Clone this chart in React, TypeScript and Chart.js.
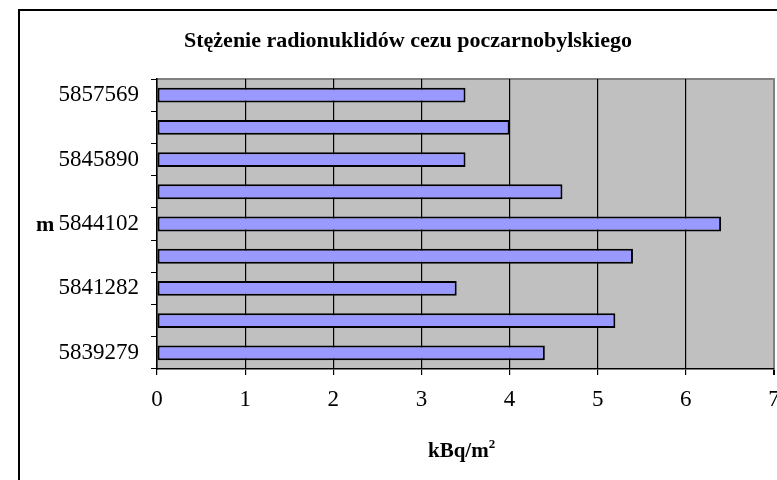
import React, { useEffect, useRef } from "react";
import { Chart, registerables } from "chart.js";

Chart.register(...registerables);

const categories = ["5857569", "", "5845890", "", "5844102", "", "5841282", "", "5839279"];
const values = [3.5, 4.0, 3.5, 4.6, 6.4, 5.4, 3.4, 5.2, 4.4];
const xTicks = [0, 1, 2, 3, 4, 5, 6, 7];
const titleText = "Stężenie radionuklidów cezu poczarnobylskiego";
const xTitle = "kBq/m";
const xTitleSup = "2";
const yTitle = "m";

const SERIF = "'Liberation Serif', 'Times New Roman', serif";

const decorPlugin = {
  id: "decor",
  beforeDraw(chart: any) {
    const { ctx, chartArea } = chart;
    ctx.save();
    ctx.fillStyle = "#000";
    ctx.fillRect(18, 9, 2, 480 - 9);
    ctx.fillRect(18, 9, 777 - 18, 2);
    ctx.fillStyle = "#C0C0C0";
    ctx.fillRect(chartArea.left, chartArea.top, chartArea.right - chartArea.left, chartArea.bottom - chartArea.top);
    ctx.strokeStyle = "#808080";
    ctx.lineWidth = 2;
    ctx.beginPath();
    ctx.moveTo(chartArea.left, chartArea.top);
    ctx.lineTo(chartArea.right, chartArea.top);
    ctx.lineTo(chartArea.right, chartArea.bottom);
    ctx.stroke();
    ctx.restore();
  },
  afterDraw(chart: any) {
    const { ctx } = chart;
    ctx.save();
    ctx.fillStyle = "#000";
    ctx.textBaseline = "alphabetic";
    ctx.font = `bold 22px ${SERIF}`;
    ctx.textAlign = "center";
    ctx.fillText(titleText, 408, 47);
    ctx.font = `bold 21px ${SERIF}`;
    ctx.textAlign = "left";
    const w = ctx.measureText(xTitle).width;
    const x0 = 428;
    ctx.fillText(xTitle, x0, 457);
    ctx.font = `bold 13px ${SERIF}`;
    ctx.fillText(xTitleSup, x0 + w, 448);
    ctx.font = `bold 22px ${SERIF}`;
    ctx.fillText(yTitle, 36, 231);
    ctx.restore();
  },
};

export default function App() {
  const ref = useRef<HTMLCanvasElement>(null);
  useEffect(() => {
    if (!ref.current) return;
    const chart = new Chart(ref.current, {
      type: "bar",
      data: {
        labels: categories,
        datasets: [
          {
            data: values,
            backgroundColor: "#9999FF",
            borderColor: "#000000",
            borderWidth: 2,
            borderSkipped: false,
            categoryPercentage: 1,
            barPercentage: 0.46,
          },
        ],
      },
      options: {
        indexAxis: "y",
        animation: false,
        responsive: false,
        layout: { padding: { top: 79, right: 3, left: 0, bottom: 0 } },
        plugins: {
          legend: { display: false },
          title: { display: false },
          tooltip: { enabled: false },
        },
        scales: {
          x: {
            type: "linear",
            min: 0,
            max: 7,
            afterBuildTicks(scale: any) {
              scale.ticks = xTicks.map((v) => ({ value: v }));
            },
            afterFit(scale: any) {
              scale.height = 111;
              scale.paddingLeft = 0;
              scale.paddingRight = 0;
            },
            border: { display: true, color: "#000", width: 1.5 },
            grid: {
              color: (c: any) => (c.tick && c.tick.value === 7 ? "#808080" : "#000"),
              lineWidth: (c: any) => (c.tick && c.tick.value === 7 ? 2 : 1.2),
              tickColor: "#000",
              tickLength: 6,
              drawTicks: true,
            },
            ticks: {
              color: "#000",
              font: { family: SERIF, size: 23 },
              padding: 11,
              maxRotation: 0,
              autoSkip: false,
            },
          },
          y: {
            type: "category",
            afterFit(scale: any) {
              scale.width = 157;
              scale.paddingTop = 0;
              scale.paddingBottom = 0;
            },
            border: { display: true, color: "#000", width: 1.5 },
            grid: {
              offset: true,
              drawOnChartArea: false,
              drawTicks: true,
              tickLength: 6,
              tickColor: "#000",
              color: "#000",
            },
            ticks: {
              color: "#000",
              font: { family: SERIF, size: 23 },
              padding: 12,
              autoSkip: false,
            },
          },
        },
      },
      plugins: [decorPlugin],
    } as any);
    return () => chart.destroy();
  }, []);
  return (
    <div style={{ position: "absolute", left: 0, top: 0, width: 777, height: 480, background: "#fff" }}>
      <canvas ref={ref} width={777} height={480} style={{ width: 777, height: 480, display: "block" }} />
    </div>
  );
}
